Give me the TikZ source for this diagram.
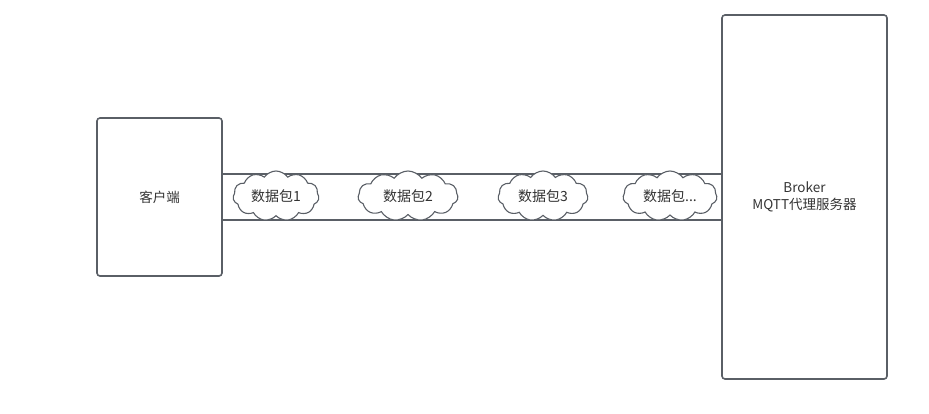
\documentclass[tikz,border=0pt]{standalone}
\usepackage{fontspec}
\setmainfont{Noto Sans CJK SC}
\usetikzlibrary{shapes.symbols}
\definecolor{edge}{HTML}{5A5F66}
\definecolor{txt}{HTML}{333333}
\tikzset{
  box/.style={draw=edge, line width=1.6pt, rounded corners=3pt},
  pkt/.style={cloud, cloud puffs=11, cloud puff arc=110, aspect=2.2, draw=edge, line width=1.1pt, fill=white,
              minimum width=86pt, minimum height=50pt, inner sep=0pt, text=txt, font=\fontsize{14}{16}\selectfont},
  lbl/.style={text=txt, font=\fontsize{13.5}{17}\selectfont, align=center},
  pipe/.style={draw=edge, line width=1.6pt}
}
\begin{document}
\begin{tikzpicture}[x=1pt,y=-1pt]
\useasboundingbox (0,0) rectangle (929,413);
\draw[box] (97,118) rectangle (222,276);
\node[lbl] (client) at (159.5,197) {客户端};
\draw[box] (722,15) rectangle (887,379);
\node[lbl] (broker) at (804.5,197) {Broker\\MQTT代理服务器};
\coordinate (pa) at (222,174);
\coordinate (pb) at (722,174);
\coordinate (pc) at (222,220);
\coordinate (pd) at (722,220);
\draw[pipe] (pa) -- (pb);
\draw[pipe] (pc) -- (pd);
\node[pkt] (p1) at (276,196) {数据包1};
\node[pkt, minimum width=100pt] (p2) at (408,196) {数据包2};
\node[pkt, minimum width=90pt] (p3) at (543,196) {数据包3};
\node[pkt, minimum width=94pt] (p4) at (670,196) {数据包...};
\end{tikzpicture}
\end{document}
